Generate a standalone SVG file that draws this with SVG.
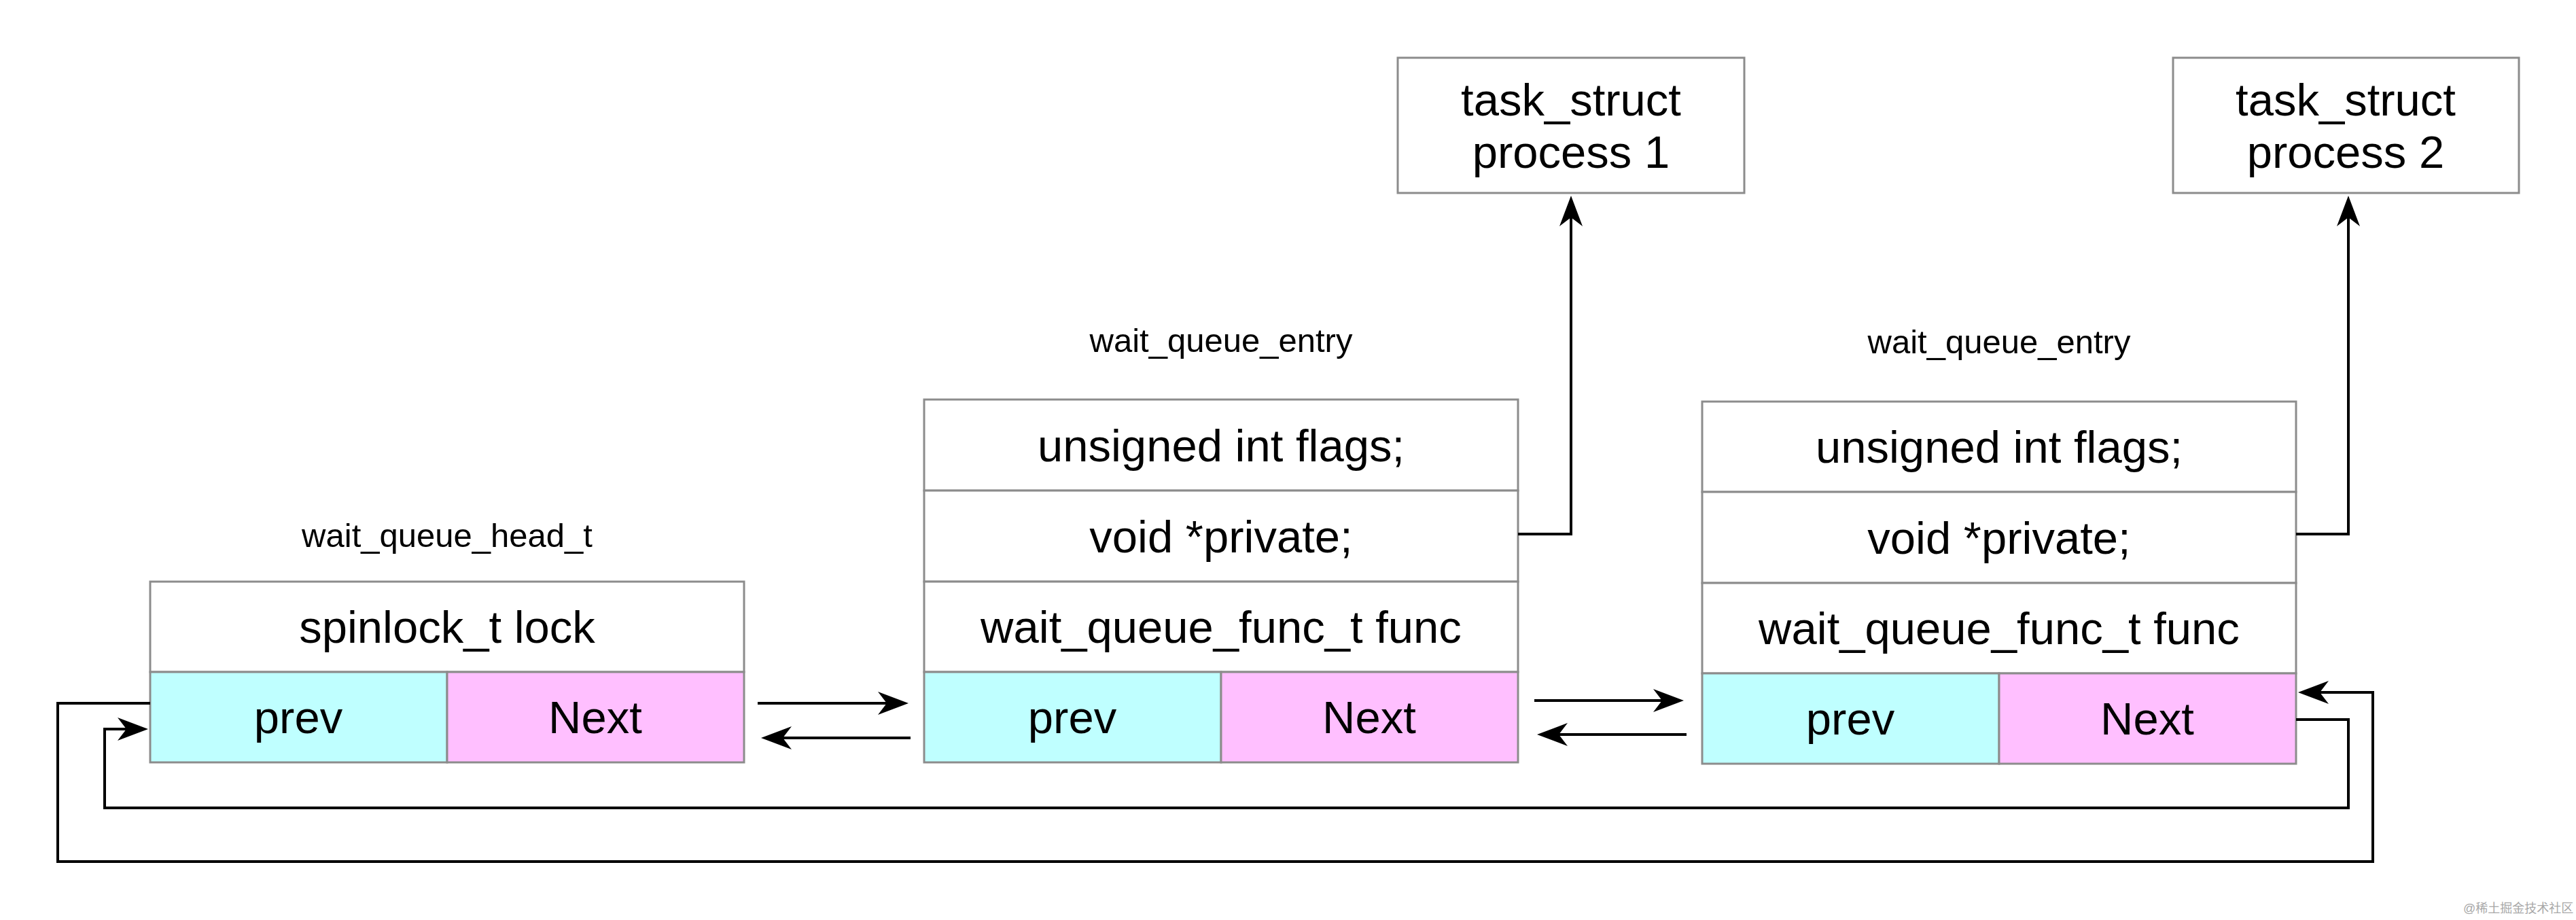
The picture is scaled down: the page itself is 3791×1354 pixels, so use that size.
<svg xmlns="http://www.w3.org/2000/svg" width="3791" height="1354" viewBox="0 0 3791 1354">
<style>
.cell{fill:#ffffff;stroke:#8c8c8c;stroke-width:3}
.prev{fill:#bfffff;stroke:#8c8c8c;stroke-width:3}
.next{fill:#ffbfff;stroke:#8c8c8c;stroke-width:3}
.t{font-family:"Liberation Sans",Arial,Helvetica,sans-serif;font-size:67px;fill:#000;text-anchor:middle}
.lbl{font-family:"Liberation Sans",Arial,Helvetica,sans-serif;font-size:49px;fill:#000;text-anchor:middle}
.wm{font-family:"Liberation Sans","Noto Sans CJK SC",sans-serif;font-size:18px;fill:#a8a8a8}
.edge{fill:none;stroke:#000;stroke-width:4;marker-end:url(#arr)}
.edge0{fill:none;stroke:#000;stroke-width:4}
</style>
<defs>
<marker id="arr" markerUnits="userSpaceOnUse" markerWidth="60" markerHeight="40" refX="0" refY="0" orient="auto" overflow="visible">
<path d="M32,0 L-13,-17 L0,0 L-13,17 Z" fill="#000"/>
</marker>
</defs>
<rect x="0" y="0" width="3791" height="1354" fill="#ffffff"/>

<g id="label-head"><text class="lbl" x="658" y="805">wait_queue_head_t</text></g>
<g id="label-entry1"><text class="lbl" x="1797" y="518">wait_queue_entry</text></g>
<g id="label-entry2"><text class="lbl" x="2942" y="520">wait_queue_entry</text></g>

<g id="head">
<rect class="cell" x="221" y="856" width="874" height="133"/>
<rect class="prev" x="221" y="989" width="437" height="133"/>
<rect class="next" x="658" y="989" width="437" height="133"/>
<text class="t" x="658" y="946">spinlock_t lock</text>
<text class="t" x="439" y="1079">prev</text>
<text class="t" x="876" y="1079">Next</text>
</g>

<g id="entry1">
<rect class="cell" x="1360" y="588" width="874" height="134"/>
<rect class="cell" x="1360" y="722" width="874" height="134"/>
<rect class="cell" x="1360" y="856" width="874" height="133"/>
<rect class="prev" x="1360" y="989" width="437" height="133"/>
<rect class="next" x="1797" y="989" width="437" height="133"/>
<text class="t" x="1797" y="679">unsigned int flags;</text>
<text class="t" x="1797" y="813">void *private;</text>
<text class="t" x="1797" y="946">wait_queue_func_t func</text>
<text class="t" x="1578" y="1079">prev</text>
<text class="t" x="2015" y="1079">Next</text>
</g>

<g id="entry2">
<rect class="cell" x="2505" y="591" width="874" height="133"/>
<rect class="cell" x="2505" y="724" width="874" height="134"/>
<rect class="cell" x="2505" y="858" width="874" height="133"/>
<rect class="prev" x="2505" y="991" width="437" height="133"/>
<rect class="next" x="2942" y="991" width="437" height="133"/>
<text class="t" x="2942" y="681">unsigned int flags;</text>
<text class="t" x="2942" y="815">void *private;</text>
<text class="t" x="2942" y="948">wait_queue_func_t func</text>
<text class="t" x="2723" y="1081">prev</text>
<text class="t" x="3160" y="1081">Next</text>
</g>

<g id="task1">
<rect class="cell" x="2057" y="85" width="510" height="199"/>
<text class="t" x="2312" y="170">task_struct</text>
<text class="t" x="2312" y="247">process 1</text>
</g>

<g id="task2">
<rect class="cell" x="3198" y="85" width="509" height="199"/>
<text class="t" x="3452" y="170">task_struct</text>
<text class="t" x="3452" y="247">process 2</text>
</g>

<g id="connectors">
<path class="edge" d="M1115,1035 L1305,1035"/>
<path class="edge" d="M1340,1086 L1152,1086"/>
<path class="edge" d="M2258,1031 L2446,1031"/>
<path class="edge" d="M2482,1081 L2294,1081"/>
<path class="edge" d="M2234,786 L2312,786 L2312,320"/>
<path class="edge" d="M3379,786 L3456,786 L3456,320"/>
<path class="edge" d="M221,1035 L85,1035 L85,1268 L3492,1268 L3492,1019 L3414,1019"/>
<path class="edge" d="M3379,1059 L3456,1059 L3456,1189 L154,1189 L154,1073 L186,1073"/>
</g>

<text class="wm" x="3625" y="1343">@稀土掘金技术社区</text>
</svg>
